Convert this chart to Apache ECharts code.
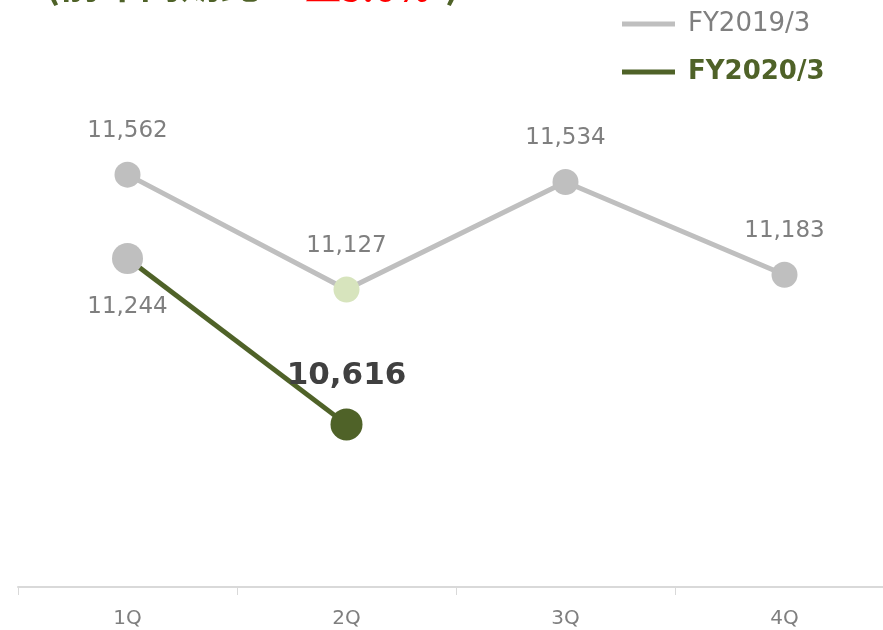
<!DOCTYPE html>
<html>
<head>
<meta charset="utf-8">
<script src="https://cdn.jsdelivr.net/npm/echarts@6/dist/echarts.min.js"></script>
<style>
  html, body { margin: 0; padding: 0; background: #fff; overflow: hidden; }
  /* the plot runs a bit past the right edge, like the original slide */
  #chart { width: 900px; height: 630px; }
</style>
</head>
<body>
<div id="chart"></div>
<script>
const categories = ["1Q", "2Q", "3Q", "4Q"];
const fy2019 = [11562, 11127, 11534, 11183];
const fy2020 = [11244, 10616];
const seriesNames = ["FY2019/3", "FY2020/3"];

const font = "DejaVu Sans";
const gray = "#bfbfbf";
const green = "#4f6228";

const chart = echarts.init(document.getElementById("chart"));

const fmt = (v) => v.toLocaleString("en-US");

// 2Q of last year is highlighted in pale green
const data2019 = fy2019.map((v, i) => ({
  value: v,
  itemStyle: i === 1 ? { color: "#d7e4bd" } : {},
}));
// first point of this year sits in grey, label below, latest point big + bold label
const data2020 = fy2020.map((v, i) => {
  if (i === 0) {
    return {
      value: v,
      symbolSize: 31,
      itemStyle: { color: gray },
      label: { position: "bottom", distance: 21 },
    };
  }
  return {
    value: v,
    symbolSize: 32,
    label: {
      position: "top",
      distance: 17,
      fontSize: 31,
      fontWeight: "bold",
      color: "#404040",
    },
  };
});

// heading is cut off at the top of the slide, only its lower edge shows
const headStyle = (color, size) => ({
  fontSize: size, fontWeight: "bold", color: color, fontFamily: "Noto Sans CJK JP",
});

chart.setOption({
  animation: false,
  title: [
    { text: "(前年同期比", left: 40, top: -42, textStyle: headStyle(green, 40) },
    { text: "▲5.6%", left: 300, top: -35, textStyle: headStyle("#ff0000", 36) },
    { text: ")", left: 440, top: -42, textStyle: headStyle(green, 40) },
  ],
  legend: {
    orient: "vertical",
    left: 617,
    top: 6,
    itemGap: 22,
    itemWidth: 53,
    itemHeight: 5,
    icon: "rect",
    textStyle: { fontFamily: font, fontSize: 26, padding: [0, 0, 0, 8] },
    data: [
      { name: seriesNames[0], textStyle: { color: "#7f7f7f" } },
      { name: seriesNames[1], textStyle: { color: green, fontWeight: "bold" } },
    ],
  },
  grid: {
    left: 18,
    right: 6,
    top: 59,
    bottom: 43,
  },
  xAxis: {
    type: "category",
    data: categories,
    boundaryGap: true,
    axisLine: { lineStyle: { color: "#d9d9d9", width: 2 } },
    axisTick: { show: true, length: 8, lineStyle: { color: "#d9d9d9", width: 1 } },
    axisLabel: { color: "#7f7f7f", fontFamily: font, fontSize: 20, margin: 22 },
  },
  yAxis: {
    type: "value",
    min: 10000,
    max: 12000,
    show: false,
    splitLine: { show: false },
  },
  series: [
    {
      name: seriesNames[0],
      type: "line",
      data: data2019,
      symbol: "circle",
      symbolSize: 26,
      color: gray,
      lineStyle: { color: gray, width: 5 },
      itemStyle: { color: gray },
      label: {
        show: true,
        position: "top",
        distance: 19,
        formatter: (p) => fmt(p.value),
        color: "#7f7f7f",
        fontFamily: font,
        fontSize: 23,
      },
      z: 2,
    },
    {
      name: seriesNames[1],
      type: "line",
      data: data2020,
      symbol: "circle",
      symbolSize: 31,
      color: green,
      lineStyle: { color: green, width: 5 },
      itemStyle: { color: green },
      label: {
        show: true,
        formatter: (p) => fmt(p.value),
        color: "#7f7f7f",
        fontFamily: font,
        fontSize: 23,
      },
      z: 3,
    },
  ],
});
</script>
</body>
</html>
